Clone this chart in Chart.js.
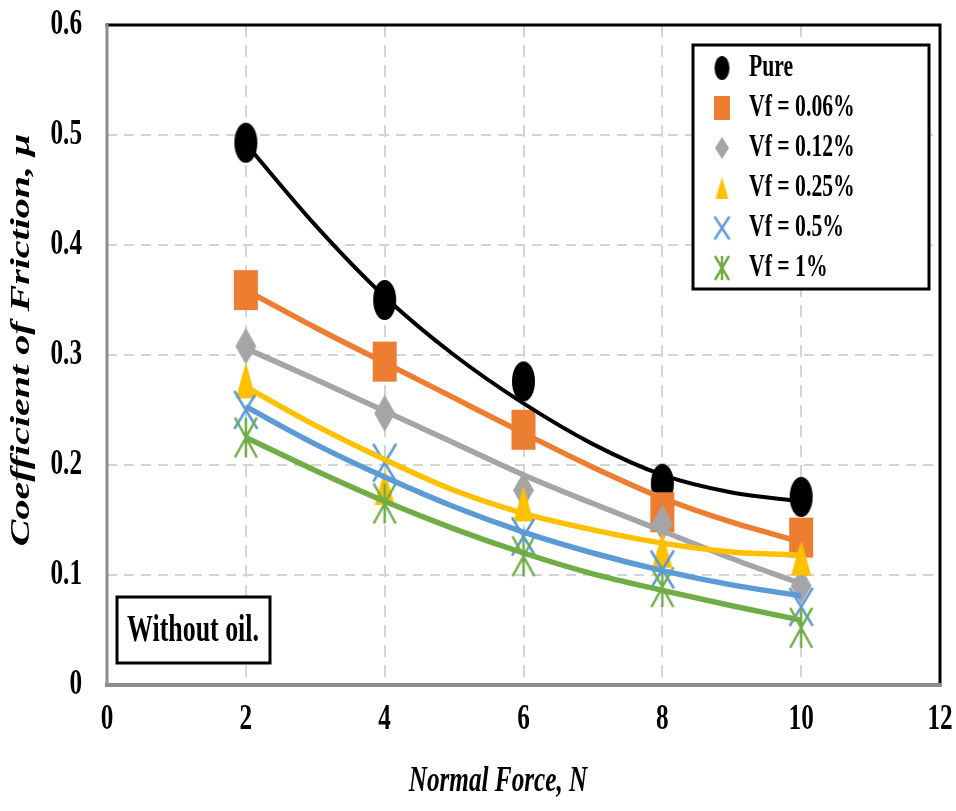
<!DOCTYPE html>
<html>
<head>
<meta charset="utf-8">
<script src="https://cdn.jsdelivr.net/npm/chart.js@4"></script>
<style>
  body { margin: 0; background: #fff; }
  canvas { display: block; }
</style>
</head>
<body>
<canvas id="chart" width="956" height="811"></canvas>
<script>
// normal force (N) values
const forces = [2, 4, 6, 8, 10];

// measured friction coefficients (markers)
const pure = [0.493, 0.350, 0.276, 0.183, 0.171];
const vf006 = [0.359, 0.294, 0.232, 0.157, 0.134];
const vf012 = [0.308, 0.247, 0.177, 0.147, 0.090];
const vf025 = [0.277, 0.180, 0.165, 0.123, 0.116];
const vf05 = [0.250, 0.202, 0.135, 0.105, 0.071];
const vf1 = [0.225, 0.165, 0.117, 0.089, 0.052];

// trendline values at each whole newton
const fitForces = [2, 3, 4, 5, 6, 7, 8, 9, 10];
const pureFit = [0.492, 0.418, 0.353, 0.300, 0.256, 0.219, 0.191, 0.175, 0.167];
const vf006Fit = [0.359, 0.325, 0.293, 0.261, 0.229, 0.198, 0.170, 0.148, 0.130];
const vf012Fit = [0.306, 0.278, 0.249, 0.220, 0.191, 0.165, 0.140, 0.115, 0.092];
const vf025Fit = [0.271, 0.236, 0.205, 0.177, 0.156, 0.141, 0.129, 0.121, 0.118];
const vf05Fit = [0.253, 0.219, 0.189, 0.162, 0.139, 0.120, 0.104, 0.091, 0.081];
const vf1Fit = [0.225, 0.195, 0.167, 0.142, 0.120, 0.101, 0.086, 0.072, 0.059];

const seriesLabels = ['Pure', 'Vf = 0.06%', 'Vf = 0.12%', 'Vf = 0.25%', 'Vf = 0.5%', 'Vf = 1%'];
const xTicks = [0, 2, 4, 6, 8, 10, 12];
const yTicks = [0, 0.1, 0.2, 0.3, 0.4, 0.5, 0.6];

const colors = ['#000000', '#ED7D31', '#A5A5A5', '#FFC000', '#5B9BD5', '#70AD47'];
const styles = ['circle', 'rect', 'diamond', 'triangle', 'cross', 'star'];
const markerSize = [[23, 40], [24, 40], [21, 37], [20, 36], [23, 38], [22, 40]];

function makeMarker(style, color, w, h) {
  const pad = 3;
  const c = document.createElement('canvas');
  c.width = w + pad * 2;
  c.height = h + pad * 2;
  const g = c.getContext('2d');
  g.translate(pad, pad);
  g.fillStyle = color;
  g.strokeStyle = color;
  g.lineWidth = 2.5;
  g.beginPath();
  if (style === 'circle') {
    g.ellipse(w / 2, h / 2, w / 2, h / 2, 0, 0, Math.PI * 2);
    g.fill();
  } else if (style === 'rect') {
    g.fillRect(0, 0, w, h);
  } else if (style === 'diamond') {
    g.moveTo(w / 2, 0); g.lineTo(w, h / 2); g.lineTo(w / 2, h); g.lineTo(0, h / 2);
    g.closePath(); g.fill();
  } else if (style === 'triangle') {
    g.moveTo(w / 2, 0); g.lineTo(w, h); g.lineTo(0, h);
    g.closePath(); g.fill();
  } else if (style === 'cross') {
    g.moveTo(0, 0); g.lineTo(w, h); g.moveTo(w, 0); g.lineTo(0, h);
    g.stroke();
  } else if (style === 'star') {
    g.moveTo(0, 0); g.lineTo(w, h); g.moveTo(w, 0); g.lineTo(0, h);
    g.moveTo(w / 2, 0); g.lineTo(w / 2, h);
    g.stroke();
  }
  return c;
}

const markers = styles.map((s, i) => makeMarker(s, colors[i], markerSize[i][0], markerSize[i][1]));
const legendMarkers = styles.map((s, i) => makeMarker(s, colors[i], Math.round(markerSize[i][0] * 0.65), Math.round(markerSize[i][1] * 0.6)));

const pointSets = [pure, vf006, vf012, vf025, vf05, vf1];
const fitSets = [pureFit, vf006Fit, vf012Fit, vf025Fit, vf05Fit, vf1Fit];

const datasets = [];
pointSets.forEach((arr, i) => {
  datasets.push({
    type: 'scatter',
    label: seriesLabels[i],
    data: arr.map((v, k) => ({ x: forces[k], y: v })),
    pointStyle: markers[i],
    backgroundColor: colors[i],
    borderColor: colors[i],
    showLine: false,
    order: 20 - i
  });
});
fitSets.forEach((arr, i) => {
  datasets.push({
    type: 'line',
    label: seriesLabels[i] + ' trend',
    data: arr.map((v, k) => ({ x: fitForces[k], y: v })),
    borderColor: colors[i],
    borderWidth: i === 0 ? 4 : 5.5,
    pointRadius: 0,
    cubicInterpolationMode: 'monotone',
    fill: false,
    order: 10 - i
  });
});

function drawText(ctx, txt, x, y, font, align, sx, rot) {
  ctx.save();
  ctx.translate(x, y);
  if (rot) {
    ctx.rotate(rot);
    ctx.scale(1, sx);
  } else {
    ctx.scale(sx, 1);
  }
  ctx.font = font;
  ctx.textAlign = align;
  ctx.textBaseline = 'middle';
  ctx.fillStyle = '#000';
  ctx.fillText(txt, 0, 0);
  ctx.restore();
}

const serif = '"Liberation Serif", "Times New Roman", serif';

const framePlugin = {
  id: 'frame',
  beforeDatasetsDraw(chart) {
    const { ctx, chartArea: a } = chart;
    ctx.save();
    ctx.lineCap = 'square';
    ctx.strokeStyle = '#000';
    ctx.lineWidth = 3;
    ctx.beginPath();
    ctx.moveTo(a.left, a.top); ctx.lineTo(a.right, a.top); ctx.lineTo(a.right, a.bottom);
    ctx.stroke();
    ctx.strokeStyle = '#8c8c8c';
    ctx.lineWidth = 3;
    ctx.beginPath();
    ctx.moveTo(a.left, a.top); ctx.lineTo(a.left, a.bottom);
    ctx.stroke();
    ctx.lineWidth = 4;
    ctx.beginPath();
    ctx.moveTo(a.left, a.bottom); ctx.lineTo(a.right, a.bottom);
    ctx.stroke();
    ctx.restore();
  },
  afterDraw(chart) {
    const { ctx, scales } = chart;
    // tick labels
    scales.x.ticks.forEach(t => {
      drawText(ctx, String(t.value), scales.x.getPixelForValue(t.value), 720, 'bold 36px ' + serif, 'center', 0.7);
    });
    scales.y.ticks.forEach(t => {
      const lbl = t.value === 0 ? '0' : t.value.toFixed(1);
      drawText(ctx, lbl, 82, scales.y.getPixelForValue(t.value), 'bold 36px ' + serif, 'right', 0.7);
    });
    // axis titles
    drawText(ctx, 'Normal Force, N', 498, 782, 'italic bold 36px ' + serif, 'center', 0.7);
    drawText(ctx, 'Coefficient of Friction, \u03bc', 22, 340, 'italic bold 40px ' + serif, 'center', 0.7, -Math.PI / 2);

    // note box
    ctx.save();
    ctx.fillStyle = '#fff';
    ctx.fillRect(117, 597, 153, 66);
    ctx.strokeStyle = '#000';
    ctx.lineWidth = 3;
    ctx.strokeRect(117, 597, 153, 66);
    ctx.restore();
    drawText(ctx, 'Without oil.', 193, 631, 'bold 37px ' + serif, 'center', 0.7);

    // legend
    ctx.save();
    ctx.fillStyle = '#fff';
    ctx.fillRect(693, 45, 236, 244);
    ctx.strokeStyle = '#000';
    ctx.lineWidth = 3;
    ctx.strokeRect(693, 45, 236, 244);
    ctx.restore();
    seriesLabels.forEach((lbl, i) => {
      const y = 68 + i * 40;
      const m = legendMarkers[i];
      ctx.drawImage(m, 722 - m.width / 2, y - m.height / 2);
      drawText(ctx, lbl, 749, y, 'bold 31px ' + serif, 'left', 0.7);
    });
  }
};

const gridColor = (ctx, lo, hi) => (ctx.tick.value <= lo || ctx.tick.value >= hi) ? 'rgba(0,0,0,0)' : '#d4d4d4';

new Chart(document.getElementById('chart'), {
  type: 'scatter',
  data: { datasets },
  options: {
    responsive: false,
    animation: false,
    devicePixelRatio: 1,
    layout: { padding: { top: 25, right: 16, left: 0, bottom: 0 } },
    plugins: { legend: { display: false }, tooltip: { enabled: false } },
    scales: {
      x: {
        type: 'linear',
        min: xTicks[0],
        max: xTicks[xTicks.length - 1],
        ticks: { stepSize: 2, display: false },
        border: { display: false, dash: [12, 8] },
        grid: { color: c => gridColor(c, 0, 12), lineWidth: 2, drawTicks: false },
        afterFit: s => { s.height = 126; }
      },
      y: {
        type: 'linear',
        min: yTicks[0],
        max: yTicks[yTicks.length - 1],
        ticks: { stepSize: 0.1, display: false },
        border: { display: false, dash: [10, 7] },
        grid: { color: c => gridColor(c, 0, 0.55), lineWidth: 2, drawTicks: false },
        afterFit: s => { s.width = 107; }
      }
    }
  },
  plugins: [framePlugin]
});
</script>
</body>
</html>
